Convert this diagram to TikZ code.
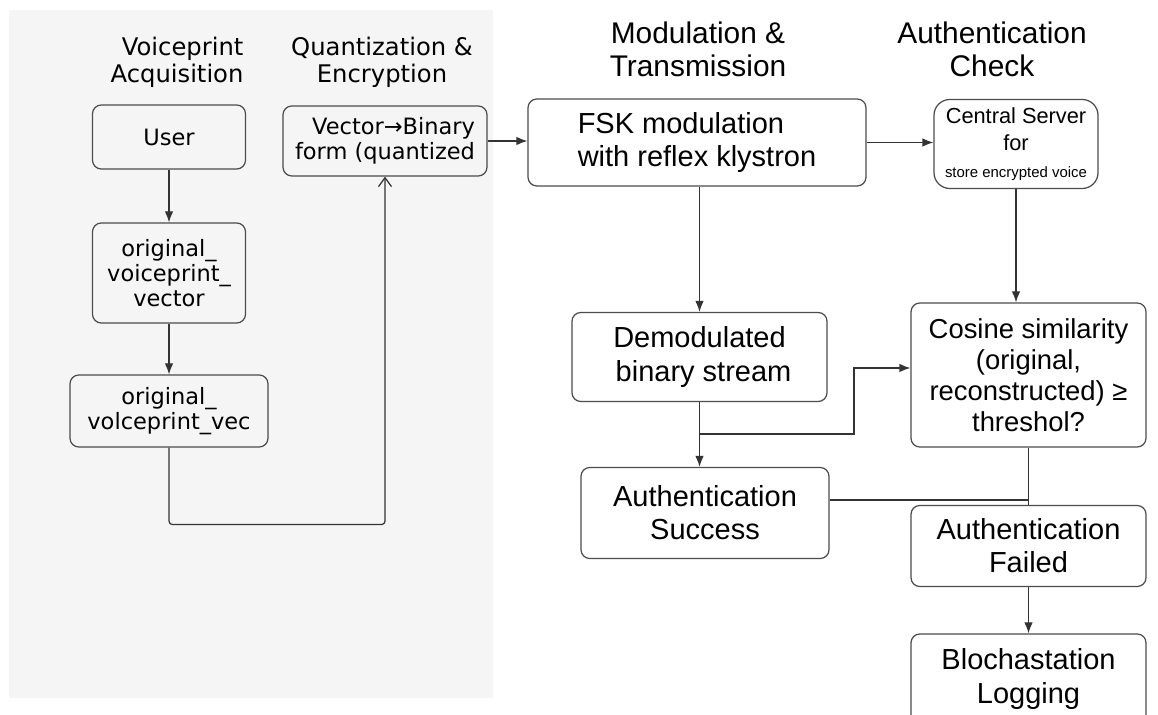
\documentclass[tikz,border=0pt]{standalone}
\usepackage{fontspec}
\setmainfont{Liberation Sans}
\newfontfamily\vpfont{DejaVu Sans}
\usepackage{tikz}
\usetikzlibrary{positioning, arrows.meta, calc}

\begin{document}
\begin{tikzpicture}[>={Latex[length=2.2mm,width=1.7mm]}, line width=0.7pt,
    box/.style={draw=black!70, rounded corners=5pt, align=center, inner sep=0pt},
    lbox/.style={box, font=\vpfont\fontsize{12.8}{14.2}\selectfont},
    rbox/.style={box, font=\fontsize{16.5}{18.8}\selectfont},
    lhead/.style={font=\vpfont\fontsize{13.8}{15.3}\selectfont},
    rhead/.style={font=\fontsize{17}{18.8}\selectfont, align=center},
    wire/.style={draw=black!80}]

    % ================= page and panel =================
    \useasboundingbox (0,0) rectangle (23.16,14.3);
    \clip (0,0) rectangle (23.16,14.3);
    \fill[white] (0,0) rectangle (23.16,14.3);
    \fill[black!4] (0.18,0.34) rectangle (9.86,14.1);

    % ================= column headings =================
    \node[lhead, align=right]  (hVoice) at (3.54,13.06) {Voiceprint\\Acquisition};
    \node[lhead, align=center] (hQuant) at (7.64,13.06) {Quantization \&\\Encryption};
    \node[rhead] (hMod)  at (13.96,13.32) {Modulation \&\\Transmission};
    \node[rhead] (hAuth) at (19.84,13.32) {Authentication\\Check};

    % ================= left panel boxes =================
    \node[lbox, minimum width=3.06cm, minimum height=1.28cm] (user) at (3.38,11.56) {User};
    \node[lbox, minimum width=3.06cm, minimum height=2.00cm] (vecFull) at (3.38,8.84)
        {original\_\\voiceprint\_\\vector};
    \node[lbox, minimum width=3.96cm, minimum height=1.44cm] (vecShort) at (3.38,6.08)
        {original\_\\volceprint\_vec};
    \node[lbox, align=right, minimum width=4.08cm, minimum height=1.40cm] (quant) at (7.70,11.48)
        {Vector→Binary\\form (quantized};

    % ================= right side boxes =================
    \node[rbox, align=left, minimum width=6.76cm, minimum height=1.74cm] (fsk) at (13.94,11.45)
        {FSK modulation\\with reflex klystron};
    \node[box, font=\fontsize{12.4}{15.3}\selectfont, minimum width=3.28cm, minimum height=1.78cm,
        rounded corners=9pt] (server) at (20.32,11.42)
        {Central Server\\for\\{\fontsize{8.5}{10}\selectfont store encrypted voice}};
    \node[rbox, minimum width=5.10cm, minimum height=1.78cm] (demod) at (13.99,7.16)
        {Demodulated\\\ binary stream};
    \node[box, font=\fontsize{15.6}{17.6}\selectfont, minimum width=4.70cm, minimum height=2.88cm]
        (cosine) at (20.57,6.80)
        {Cosine similarity\\(original,\\reconstructed) ≥\\threshol?};
    \node[rbox, minimum width=4.96cm, minimum height=1.82cm] (success) at (14.10,4.04)
        {Authentication\\Success};
    \node[rbox, minimum width=4.70cm, minimum height=1.62cm] (failed) at (20.57,3.38)
        {Authentication\\Failed};
    \node[rbox, minimum width=4.70cm, minimum height=1.80cm] (logging) at (20.57,0.72)
        {Blochastation\\Logging};

    % ================= wiring =================
    \draw[wire, ->] (user.south) -- (vecFull.north);
    \draw[wire, ->] (vecFull.south) -- (vecShort.north);
    \draw[wire, -{Straight Barb[length=1.8mm,width=2.6mm]}, rounded corners=2pt]
        (vecShort.south) -- ++(0,-1.54) -| (quant.south);

    \draw[wire, ->] (quant.east) -- (quant.east -| fsk.west);
    \draw[wire, ->] (fsk.east) -- (fsk.east -| server.west);
    \draw[wire, ->] (fsk.south -| demod.north) -- (demod.north);
    \draw[wire, ->] (server.south) -- (server.south |- cosine.north);

    % demodulated stream goes down and across to the check
    \draw[wire, ->] (demod.south) -- (demod.south |- success.north);
    \draw[wire, ->] (demod.south) ++(0,-0.64) -- ++(3.09,0) |- ([yshift=0.14cm]cosine.west);

    % result of the check
    \draw[wire] (cosine.south) -- (cosine.south |- failed.north);
    \draw[wire, line width=1.6pt] ([yshift=0.26cm]success.east) -- ([yshift=0.26cm]success.east -| cosine.south);
    \draw[wire, ->] (failed.south) -- (logging.north);

\end{tikzpicture}
\end{document}
